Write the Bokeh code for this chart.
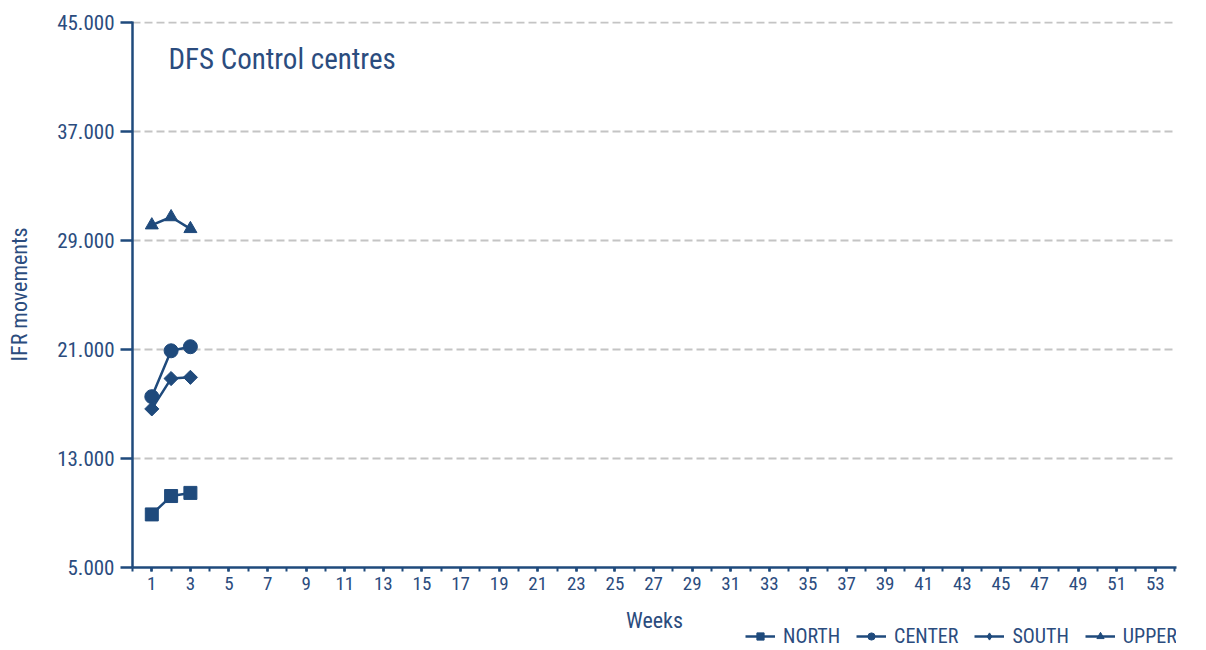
import math
from bokeh.plotting import figure
from bokeh.layouts import column
from bokeh.models import (FixedTicker, Range1d, Legend, LegendItem, Label)
from bokeh.embed import file_html
from bokeh.resources import INLINE

weeks = [1, 2, 3]
north = [8900, 10250, 10480]
center = [17550, 20920, 21220]
south = [16650, 18880, 18970]
upper = [30150, 30750, 29880]

series_names = ["NORTH", "CENTER", "SOUTH", "UPPER"]
y_ticks = [5000, 13000, 21000, 29000, 37000, 45000]
y_tick_labels = ["5.000", "13.000", "21.000", "29.000", "37.000", "45.000"]
x_major = list(range(1, 54, 2))
x_minor = list(range(0, 55))

FONT = "Liberation Sans Narrow, Roboto Condensed, Arial Narrow, sans-serif"
BLUE = "#1F4A7C"
TXT = "#2B4C7E"

p = figure(width=1200, height=598, output_backend="svg", toolbar_location=None,
           x_range=Range1d(0, 54.1), y_range=Range1d(5000, 45110),
           min_border_left=132, min_border_right=24, min_border_top=21,
           min_border_bottom=31)
p.outline_line_color = None
p.background_fill_color = "white"
p.border_fill_color = "white"

# axes
p.yaxis.ticker = FixedTicker(ticks=y_ticks)
p.yaxis.major_label_overrides = {t: l for t, l in zip(y_ticks, y_tick_labels)}
p.yaxis.major_tick_out = 12
p.yaxis.major_tick_in = 0
p.yaxis.major_label_standoff = 6
p.yaxis.axis_label = "IFR movements"
p.yaxis.axis_label_standoff = 22

p.xaxis.ticker = FixedTicker(ticks=x_major, minor_ticks=x_minor)
p.xaxis.major_tick_out = 4
p.xaxis.major_tick_in = 0
p.xaxis.minor_tick_out = 4
p.xaxis.minor_tick_in = 0
p.xaxis.major_label_standoff = 5

for ax in (p.xaxis, p.yaxis):
    ax.axis_line_color = BLUE
    ax.axis_line_width = 2.5
    ax.major_tick_line_color = BLUE
    ax.major_tick_line_width = 2.5
    ax.minor_tick_line_color = BLUE
    ax.minor_tick_line_width = 2
    ax.major_label_text_font = FONT
    ax.major_label_text_color = TXT
    ax.axis_label_text_font = FONT
    ax.axis_label_text_font_style = "normal"
    ax.axis_label_text_color = TXT
p.yaxis.minor_tick_line_color = None
p.yaxis.major_label_text_font_size = "21px"
p.xaxis.major_label_text_font_size = "19px"
p.yaxis.axis_label_text_font_size = "22px"

p.xgrid.grid_line_color = None
p.ygrid.ticker = FixedTicker(ticks=y_ticks)
p.ygrid.grid_line_color = "#C4C4C4"
p.ygrid.grid_line_width = 2
p.ygrid.grid_line_dash = "8 4"

markers = ["square", "circle", "square", "triangle"]
angles = [0, 0, math.pi / 4, 0]
sizes = [13, 14, 10, 13]
legend_markers = ["square", "circle", "diamond", "triangle"]
legend_sizes = [10, 11, 12, 10]
data = [north, center, south, upper]
for vals, mk, sz, ang in zip(data, markers, sizes, angles):
    p.line(weeks, vals, line_color=BLUE, line_width=2.5)
    p.scatter(weeks, vals, marker=mk, size=sz, angle=ang, fill_color=BLUE,
              line_color=BLUE)

title = Label(x=36, y=509, x_units="screen", y_units="screen",
              text="DFS Control centres", text_font=FONT,
              text_font_size="29px", text_color=TXT, text_baseline="middle")
p.add_layout(title)

# strip below the chart: x-axis title and legend
q = figure(width=1200, height=50, output_backend="svg", toolbar_location=None,
           x_axis_type=None, y_axis_type=None, min_border=0,
           min_border_left=132, min_border_right=24,
           x_range=Range1d(0, 1), y_range=Range1d(0, 1))
q.outline_line_color = None
q.xgrid.grid_line_color = None
q.ygrid.grid_line_color = None

xlabel = Label(x=522, y=28, x_units="screen", y_units="screen", text="Weeks",
               text_font=FONT, text_font_size="22px", text_color=TXT,
               text_align="center", text_baseline="middle")
q.add_layout(xlabel)

items = []
for name, vals, mk, sz in zip(series_names, data, legend_markers, legend_sizes):
    # same series, outside this strip's ranges: only their legend keys show
    lr = q.line(weeks, vals, line_color=BLUE, line_width=2.5)
    sr = q.scatter(weeks, vals, marker=mk, size=sz,
                   fill_color=BLUE, line_color=BLUE)
    items.append(LegendItem(label=name, renderers=[lr, sr]))
legend = Legend(items=items, orientation="horizontal", location=(613, 0),
                glyph_width=30, glyph_height=18, label_standoff=8, spacing=16,
                padding=0, margin=0, border_line_color=None,
                background_fill_alpha=0,
                label_text_font=FONT, label_text_font_size="20px",
                label_text_color=TXT)
q.add_layout(legend, "center")

open("out.html", "w").write(file_html(column(p, q, spacing=0), INLINE))
